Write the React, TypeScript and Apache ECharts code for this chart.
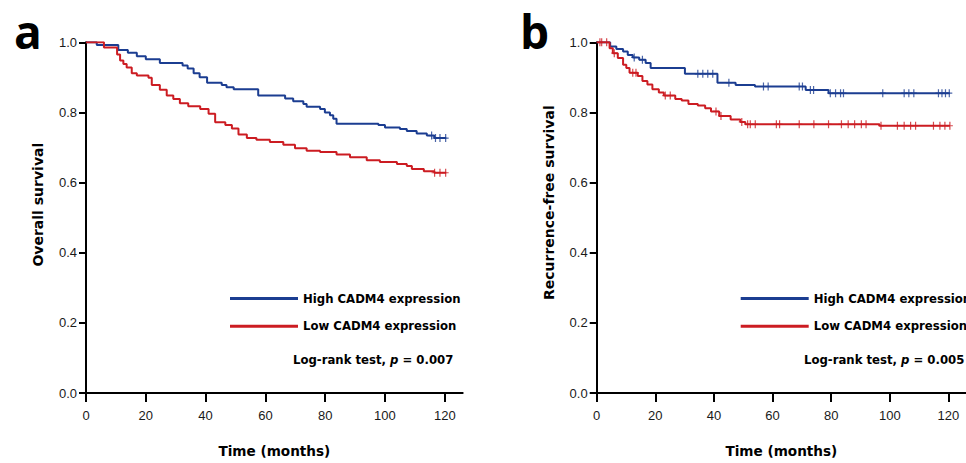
import React, { useEffect, useRef } from "react";
import * as echarts from "echarts";

// ---------- data ----------
const xTickValues = [0, 20, 40, 60, 80, 100, 120];
const seriesNames = ["High CADM4 expression", "Low CADM4 expression"];
const panelLabels = ["a", "b"];
const yTitles = ["Overall survival", "Recurrence-free survival"];
const pValues = ["0.007", "0.005"];

// Panel a – overall survival
const aHighTimes = [0, 3.6, 10.8, 14, 17, 20, 24.7, 32.3, 34, 36, 38, 40.5, 45.4, 47, 49.4, 57.6, 66.6, 69.3, 72.7, 73.8, 78.3, 79.9, 81.6, 82.7, 83.8, 97.8, 100, 105, 107.3, 110.6, 114, 116.5, 120.5];
const aHighSurv = [1, 0.992, 0.978, 0.97, 0.96, 0.952, 0.941, 0.934, 0.925, 0.912, 0.9, 0.885, 0.878, 0.872, 0.866, 0.848, 0.84, 0.832, 0.824, 0.816, 0.81, 0.8, 0.792, 0.782, 0.768, 0.764, 0.757, 0.753, 0.747, 0.74, 0.734, 0.727, 0.727];
const aHighCensor = [115.6, 116.9, 118.4, 120.3];

const aLowTimes = [0, 6, 10.4, 11.4, 12.5, 13.6, 15.3, 17, 20.9, 22, 24.7, 27, 29.2, 31.4, 34.2, 38.2, 41, 43.2, 46.6, 48.8, 51, 53.8, 57, 61.5, 66, 69.9, 73.8, 78.3, 83.8, 88.3, 93.9, 98.3, 104, 107.3, 109, 113, 116.5, 120.5];
const aLowSurv = [1, 0.985, 0.965, 0.948, 0.938, 0.928, 0.912, 0.905, 0.899, 0.878, 0.865, 0.848, 0.838, 0.826, 0.818, 0.81, 0.796, 0.772, 0.764, 0.754, 0.737, 0.727, 0.722, 0.716, 0.708, 0.698, 0.691, 0.687, 0.68, 0.672, 0.664, 0.659, 0.653, 0.647, 0.639, 0.632, 0.628, 0.628];
const aLowCensor = [116.6, 118.4, 120.3];

// Panel b – recurrence-free survival
const bHighTimes = [0, 4.6, 6.7, 9, 10.6, 12.3, 14.5, 16.7, 18.4, 30.1, 41.2, 47.4, 54, 71.3, 79.1, 120.5];
const bHighSurv = [1, 0.988, 0.981, 0.974, 0.964, 0.957, 0.95, 0.941, 0.927, 0.91, 0.885, 0.878, 0.874, 0.864, 0.855, 0.855];
const bHighCensor = [12.8, 15.6, 34.5, 36.2, 37.9, 39.6, 45.1, 56.9, 58.5, 69.1, 70.2, 72.9, 74.0, 79.7, 81.5, 83.2, 84.2, 97.6, 104.9, 106.5, 108.2, 116.6, 117.8, 119, 120.3];

const bLowTimes = [0, 4.4, 5.5, 7.2, 9, 10.1, 11.2, 14, 15.6, 17.3, 19, 21.2, 22.9, 26.8, 29, 31.3, 34.5, 37, 39, 41.8, 45.7, 49, 50.7, 96.5, 120.5];
const bLowSurv = [1, 0.983, 0.969, 0.955, 0.936, 0.927, 0.913, 0.904, 0.89, 0.88, 0.866, 0.857, 0.848, 0.838, 0.834, 0.824, 0.82, 0.812, 0.803, 0.79, 0.78, 0.773, 0.766, 0.762, 0.762];
const bLowCensor = [1.1, 1.7, 3.4, 6, 12.3, 13.4, 23.4, 25.1, 40.7, 42.4, 49.5, 51.5, 52.4, 54.1, 61.3, 62.4, 69.1, 74.1, 79.1, 83.5, 85.8, 88, 90.3, 91.9, 97, 102.6, 104.9, 107.1, 108.8, 114.9, 117.1, 118.8, 120.5];

// ---------- styling ----------
const BLUE = "#1b3d91";
const RED = "#cc1c22";
const BOLD_FONT = "DejaVu Sans";
const TICK_FONT = "Liberation Sans Narrow, Arial Narrow, Liberation Sans, sans-serif";
const CROSS = "path://M2.4,0H3.6V3.4H6V4.6H3.6V8H2.4V4.6H0V3.4H2.4Z";

const panels = [
  { high: [aHighTimes, aHighSurv, aHighCensor], low: [aLowTimes, aLowSurv, aLowCensor] },
  { high: [bHighTimes, bHighSurv, bHighCensor], low: [bLowTimes, bLowSurv, bLowCensor] },
];

const gridLefts = [86, 596.7];
const GRID_TOP = 42.3;
const GRID_W = 376.7;
const GRID_H = 356.2;

function stepValue(times: number[], surv: number[], t: number) {
  let v = surv[0];
  for (let i = 0; i < times.length; i++) {
    if (times[i] <= t) v = surv[i];
  }
  return v;
}

function buildOption() {
  const series: any[] = [];
  panels.forEach((p, pi) => {
    const groups = [
      { name: seriesNames[0], color: BLUE, d: p.high },
      { name: seriesNames[1], color: RED, d: p.low },
    ];
    groups.forEach((g) => {
      const [times, surv, cens] = g.d as number[][];
      series.push({
        type: "line",
        name: g.name,
        xAxisIndex: pi,
        yAxisIndex: pi,
        step: "end",
        showSymbol: false,
        symbol: "none",
        color: g.color,
        lineStyle: { color: g.color, width: 2 },
        data: times.map((t, i) => [t, surv[i]]),
        z: 3,
      });
      series.push({
        type: "scatter",
        name: g.name + " censored",
        xAxisIndex: pi,
        yAxisIndex: pi,
        symbol: CROSS,
        symbolSize: [6, 8],
        itemStyle: { color: g.color },
        data: cens.map((c) => [c, stepValue(times, surv, c)]),
        z: 4,
      });
    });
  });

  return {
    animation: false,
    backgroundColor: "#ffffff",
    grid: gridLefts.map((l) => ({ left: l, top: GRID_TOP, width: GRID_W, height: GRID_H })),
    xAxis: gridLefts.map((_, i) => ({
      gridIndex: i,
      type: "value",
      min: 0,
      max: 126,
      interval: 20,
      axisLine: { lineStyle: { color: "#000", width: 2 } },
      axisTick: { show: true, length: 9, customValues: xTickValues, lineStyle: { color: "#000", width: 2 } },
      axisLabel: {
        customValues: xTickValues,
        margin: 16,
        fontFamily: TICK_FONT,
        fontSize: 13,
        color: "#1a1a1a",
      },
      splitLine: { show: false },
      name: "Time (months)",
      nameLocation: "middle",
      nameGap: 51,
      nameTextStyle: { fontFamily: BOLD_FONT, fontWeight: "bold", fontSize: 13.6, color: "#000" },
    })),
    yAxis: gridLefts.map((_, i) => ({
      gridIndex: i,
      type: "value",
      min: 0,
      max: 1,
      interval: 0.2,
      axisLine: { show: true, lineStyle: { color: "#000", width: 2 } },
      axisTick: { show: true, length: 7, lineStyle: { color: "#000", width: 2 } },
      axisLabel: {
        margin: 9,
        fontFamily: TICK_FONT,
        fontSize: 13,
        color: "#1a1a1a",
        formatter: (v: number) => v.toFixed(1),
      },
      splitLine: { show: false },
      name: yTitles[i],
      nameLocation: "middle",
      nameGap: 41,
      nameTextStyle: {
        fontFamily: BOLD_FONT,
        fontWeight: "bold",
        fontSize: 14,
        color: "#000",
        padding: [0, 0, 0, i === 0 ? 26 : 30],
      },
    })),
    legend: [225, 735.7].map((l) => ({
      orient: "vertical",
      left: l,
      top: 286.5,
      icon: "rect",
      itemWidth: 68,
      itemHeight: 3,
      itemGap: 13.8,
      selectedMode: false,
      data: seriesNames,
      textStyle: { fontFamily: BOLD_FONT, fontWeight: "bold", fontSize: 11.7, color: "#000", lineHeight: 14 },
    })),
    graphic: [
      ...[14, 520].map((x, i) => ({
        type: "text",
        x: x,
        y: 31,
        style: {
          text: panelLabels[i],
          font: 'bold 46px "Open Sans"',
          fill: "#000",
          verticalAlign: "middle",
          align: "left",
        },
      })),
      ...[293, 804].map((x, i) => ({
        type: "text",
        x: x,
        y: 360,
        style: {
          text: "{b|Log-rank test, }{i|p}{b| = " + pValues[i] + "}",
          verticalAlign: "middle",
          align: "left",
          rich: {
            b: { fontFamily: BOLD_FONT, fontWeight: "bold", fontSize: 11.7, fill: "#000" },
            i: { fontFamily: BOLD_FONT, fontWeight: "bold", fontStyle: "italic", fontSize: 11.7, fill: "#000" },
          },
        },
      })),
    ],
    series,
  };
}

export default function App() {
  const ref = useRef<HTMLDivElement>(null);
  useEffect(() => {
    if (!ref.current) return;
    const chart = echarts.init(ref.current, undefined, { renderer: "svg" });
    chart.setOption(buildOption() as any);
    return () => chart.dispose();
  }, []);
  return (
    <div
      ref={ref}
      style={{ position: "fixed", left: 0, top: 0, width: 966, height: 463, background: "#fff" }}
    />
  );
}
